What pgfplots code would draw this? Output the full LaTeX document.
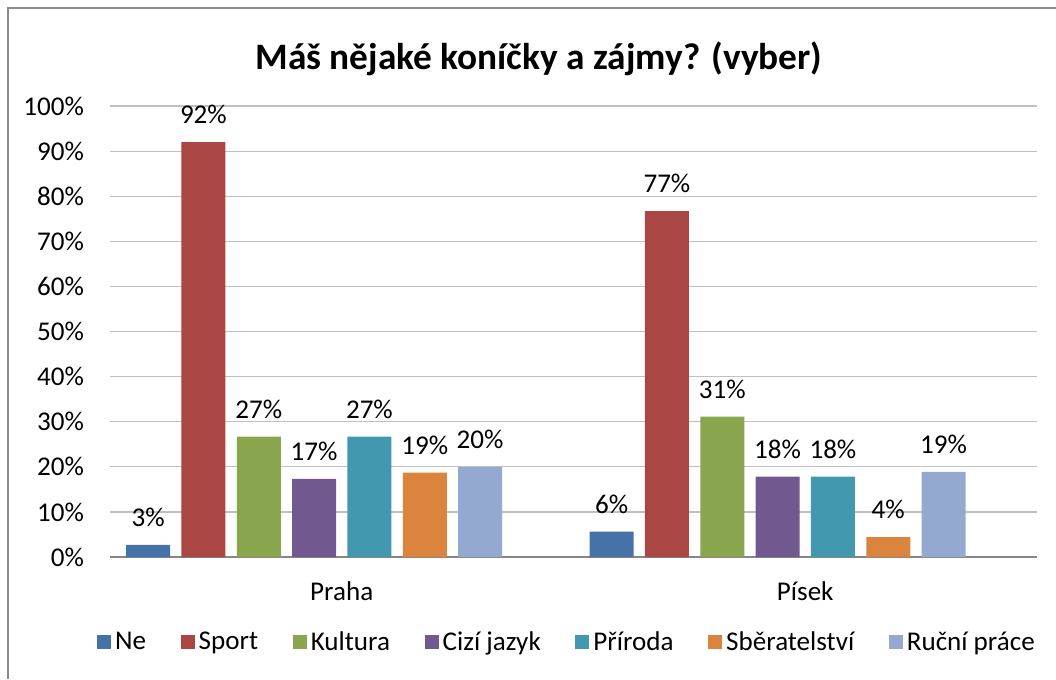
\documentclass[border=0pt]{standalone}
\usepackage{fontspec}
\setmainfont{Carlito}
\usepackage{pgfplots}
\pgfplotsset{compat=1.18}
\definecolor{cNe}{HTML}{4572A7}
\definecolor{cSport}{HTML}{AA4643}
\definecolor{cKult}{HTML}{89A54E}
\definecolor{cJaz}{HTML}{71588F}
\definecolor{cPri}{HTML}{4198AF}
\definecolor{cSber}{HTML}{DB843D}
\definecolor{cRuc}{HTML}{93A9CF}
\definecolor{framec}{HTML}{8C8C8C}
\definecolor{gridc}{HTML}{C0C0C0}
\definecolor{axisc}{HTML}{868686}
\newcommand\fs{\fontsize{20.3}{24}\selectfont}
\begin{document}
\begin{tikzpicture}
\useasboundingbox (0,0) rectangle (792pt,509.25pt);
\fill[white] (0,0) rectangle (792pt,509.25pt);
\draw[color=framec, line width=1.2pt] (6pt,0) -- (6pt,503.25pt) -- (792pt,503.25pt);
\node[font=\bfseries\fontsize{28}{33}\selectfont] at (404.25pt,465.5pt) {Máš nějaké koníčky a zájmy? (vyber)};
\begin{axis}[
  at={(82.5pt,91.5pt)}, anchor=south west,
  scale only axis, width=695.25pt, height=338.25pt,
  ymin=0, ymax=100, xmin=-0.5, xmax=1.5,
  ytick={0,10,...,100}, xtick={0,1}, xticklabels={Praha,Písek},
  yticklabel={\pgfmathprintnumber{\tick}\%},
  /pgf/number format/assume math mode=true,
  ymajorgrids, grid style={color=gridc, line width=0.9pt},
  axis lines*=left, y axis line style={draw=none},
  x axis line style={color=axisc, line width=1.3pt},
  major tick length=0pt,
  tick label style={font=\fs},
  yticklabel style={xshift=-16pt},
  xticklabel style={yshift=-15pt},
  ybar, bar width=33pt,
  nodes near coords={\pgfmathprintnumber[fixed,precision=0]{\pgfplotspointmeta}\%},
  nodes near coords style={font=\fs, anchor=south, yshift=10pt},
  legend columns=7,
  legend style={draw=none, at={(0.494,-0.188)}, anchor=center, font=\fs,
    /tikz/every even column/.append style={column sep=23pt},
    nodes={inner xsep=3pt}},
  legend image code/.code={\fill[#1] (0pt,-5.25pt) rectangle (10.5pt,5.25pt);},
]
\addplot[fill=cNe, draw=none, bar shift=-145.25pt] coordinates {(0,2.7) (1,5.6)};
\addplot[fill=cSport, draw=none, bar shift=-103.75pt] coordinates {(0,92.0) (1,76.7)};
\addplot[fill=cKult, draw=none, bar shift=-62.25pt] coordinates {(0,26.7) (1,31.1)};
\addplot[fill=cJaz, draw=none, bar shift=-20.75pt] coordinates {(0,17.3) (1,17.8)};
\addplot[fill=cPri, draw=none, bar shift=20.75pt] coordinates {(0,26.7) (1,17.8)};
\addplot[fill=cSber, draw=none, bar shift=62.25pt] coordinates {(0,18.7) (1,4.4)};
\addplot[fill=cRuc, draw=none, bar shift=103.75pt] coordinates {(0,20.0) (1,18.9)};
\legend{Ne, Sport, Kultura, Cizí jazyk, Příroda, Sběratelství, Ruční práce}
\end{axis}
\end{tikzpicture}
\end{document}
